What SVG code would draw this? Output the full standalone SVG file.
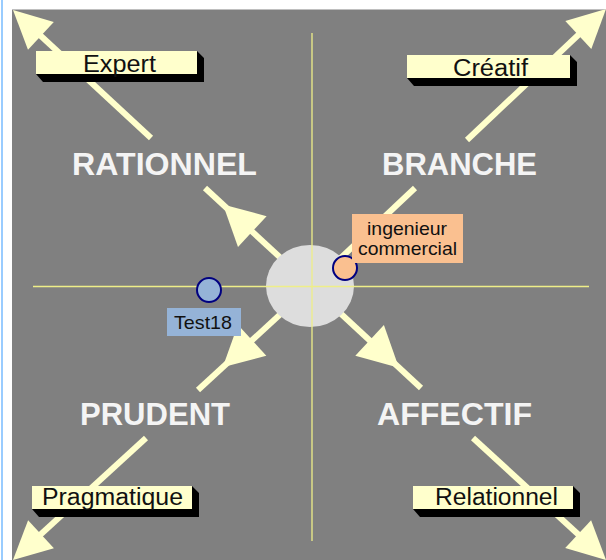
<svg xmlns="http://www.w3.org/2000/svg" width="606" height="560" viewBox="0 0 606 560">
  <defs>
    <clipPath id="area"><rect x="12" y="9.5" width="594" height="550.5"/></clipPath>
    <style>
      .diag { stroke: #FFFFCC; stroke-width: 6; stroke-linecap: butt; fill: none; }
      .head { fill: #FFFFCC; }
      .axis { stroke: #EEEE88; stroke-width: 1.3; fill: none; }
      .box { fill: #FFFFCC; }
      .shadow { fill: #000000; }
      .boxtxt { font-family: "Liberation Sans", Arial, sans-serif; font-size: 23px; fill: #111111; text-anchor: middle; }
      .quad { font-family: "Liberation Sans", Arial, sans-serif; font-size: 31px; font-weight: bold; fill: #F4F4F4; text-anchor: middle; }
      .lbl { font-family: "Liberation Sans", Arial, sans-serif; font-size: 19px; fill: #111111; text-anchor: middle; }
      .mark { stroke: #000080; stroke-width: 2; }
    </style>
  </defs>

  <rect x="0" y="0" width="606" height="560" fill="#FFFFFF"/>
  <rect x="1" y="0" width="2" height="560" fill="#99CCFF"/>
  <rect x="12" y="9.5" width="594" height="550.5" fill="#808080"/>

  <g id="connectors" clip-path="url(#area)">
    <line class="diag" x1="311" y1="286" x2="205" y2="188"/>
    <line class="diag" x1="151" y1="138" x2="28" y2="24"/>
    <polygon class="head" points="223,204.5 266.6,216.2 238,247"/>
    <polygon class="head" points="13,10 53.8,21.9 28,49.7"/>

    <line class="diag" x1="311" y1="286" x2="415" y2="188"/>
    <line class="diag" x1="467" y1="140" x2="592" y2="22"/>
    <polygon class="head" points="606,9 591.3,48.9 565.3,21.1"/>

    <line class="diag" x1="311" y1="286" x2="198" y2="390"/>
    <line class="diag" x1="146" y1="438" x2="28" y2="546"/>
    <polygon class="head" points="222.7,367.2 266.3,355.7 237.9,324.7"/>
    <polygon class="head" points="13,560 53.9,548.3 28.1,520.3"/>

    <line class="diag" x1="311" y1="286" x2="421" y2="388"/>
    <line class="diag" x1="473" y1="438" x2="592" y2="547"/>
    <polygon class="head" points="398.9,367.7 355.3,355.8 383.9,325"/>
    <polygon class="head" points="606,560 565.2,548 591.1,520.2"/>
  </g>

  <g id="centre">
    <ellipse cx="310" cy="286" rx="44" ry="41" fill="#DDDDDD"/>
  </g>

  <g id="axes">
    <line class="axis" x1="33" y1="286.5" x2="589" y2="286.5"/>
    <line class="axis" x1="312" y1="33" x2="312" y2="541"/>
  </g>

  <g id="expert">
    <polygon class="shadow" points="36,74 43,82 204,82 204,58 197,51 197,74"/>
    <rect class="box" x="36" y="51" width="161" height="23"/>
    <text class="boxtxt" x="119.5" y="72" textLength="73" lengthAdjust="spacingAndGlyphs">Expert</text>
  </g>
  <g id="creatif">
    <polygon class="shadow" points="407,78 414,86 577,86 577,62 570,55 570,78"/>
    <rect class="box" x="407" y="55" width="163" height="23"/>
    <text class="boxtxt" x="490.5" y="76" textLength="75" lengthAdjust="spacingAndGlyphs">Créatif</text>
  </g>
  <g id="pragmatique">
    <polygon class="shadow" points="32,509 39,517 199,517 199,493 192,486 192,509"/>
    <rect class="box" x="32" y="486" width="160" height="23"/>
    <text class="boxtxt" x="112.5" y="505" textLength="141" lengthAdjust="spacingAndGlyphs">Pragmatique</text>
  </g>
  <g id="relationnel">
    <polygon class="shadow" points="413,509 420,517 580,517 580,493 573,486 573,509"/>
    <rect class="box" x="413" y="486" width="160" height="23"/>
    <text class="boxtxt" x="496.5" y="505" textLength="123" lengthAdjust="spacingAndGlyphs">Relationnel</text>
  </g>

  <g id="rationnel"><text class="quad" x="164.5" y="175" textLength="185" lengthAdjust="spacingAndGlyphs">RATIONNEL</text></g>
  <g id="branche"><text class="quad" x="459.5" y="175" textLength="155" lengthAdjust="spacingAndGlyphs">BRANCHE</text></g>
  <g id="prudent"><text class="quad" x="155" y="425" textLength="150" lengthAdjust="spacingAndGlyphs">PRUDENT</text></g>
  <g id="affectif"><text class="quad" x="454.5" y="425" textLength="155" lengthAdjust="spacingAndGlyphs">AFFECTIF</text></g>

  <g id="test18">
    <circle class="mark" cx="209" cy="290" r="12" fill="#95B3D7"/>
    <rect x="167" y="308" width="74" height="28" fill="#95B3D7"/>
    <text class="lbl" x="203" y="329" textLength="58" lengthAdjust="spacingAndGlyphs">Test18</text>
  </g>

  <g id="ingenieur-commercial">
    <circle class="mark" cx="345" cy="268" r="12" fill="#FAC090"/>
    <rect x="352" y="214" width="111" height="49" fill="#FAC090"/>
    <text class="lbl" x="407" y="235" textLength="80" lengthAdjust="spacingAndGlyphs">ingenieur</text>
    <text class="lbl" x="407.5" y="255" textLength="99" lengthAdjust="spacingAndGlyphs">commercial</text>
  </g>
</svg>
